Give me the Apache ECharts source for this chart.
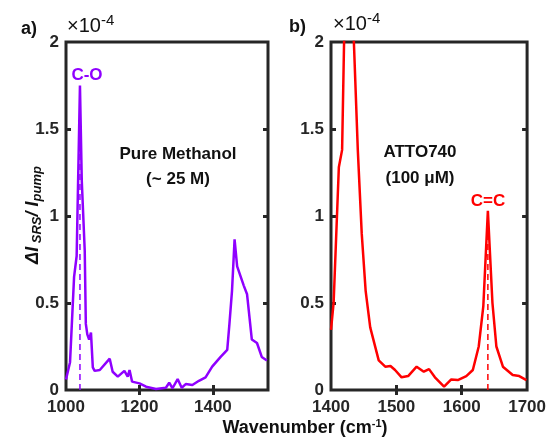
<!DOCTYPE html>
<html><head><meta charset="utf-8">
<script src="https://cdn.jsdelivr.net/npm/echarts@6/dist/echarts.min.js"></script>
<style>html,body{margin:0;padding:0;background:#fff}#c{width:549px;height:442px}</style>
</head><body><div id="c"></div>
<script>
// Data (values in units of 1e-4)
var methanolWavenumber = [1000,1011,1022,1029,1038,1043,1051,1054,1058,1063,1068,1073,1078,1092,1119,1127,1141,1159,1168,1173,1180,1200,1218,1245,1272,1281,1290,1304,1315,1326,1344,1362,1380,1398,1421,1439,1445,1452,1459,1466,1484,1493,1506,1520,1533,1547];
var methanolSignal = [0.06,0.16,0.65,0.77,1.75,1.2,0.8,0.38,0.32,0.29,0.33,0.13,0.11,0.115,0.18,0.105,0.077,0.11,0.077,0.115,0.048,0.038,0.019,0.006,0.013,0.042,0.01,0.063,0.013,0.034,0.029,0.053,0.073,0.134,0.19,0.23,0.38,0.57,0.866,0.71,0.60,0.55,0.29,0.27,0.19,0.17];
var attoWavenumber = [1400,1404,1412,1417,1420,1428,1435,1441,1447,1453,1460,1473,1483,1491,1498,1508,1518,1531,1542,1550,1559,1573,1584,1594,1607,1617,1626,1633,1640,1647,1653,1663,1678,1688,1699];
var attoSignal = [0.345,0.50,1.28,1.38,2.0,2.6,2.0,1.38,0.9,0.57,0.36,0.17,0.134,0.138,0.115,0.073,0.08,0.134,0.105,0.12,0.073,0.019,0.061,0.057,0.08,0.115,0.25,0.48,1.03,0.50,0.25,0.134,0.086,0.08,0.057];
var coMarker = [[1038,0],[1038,1.72]];
var ccMarker = [[1640,0],[1640,1.0]];
var yTicks = [0,0.5,1,1.5,2];
var leftXTicks = [1000,1200,1400];
var rightXTicks = [1400,1500,1600,1700];

function zip(a,b){return a.map(function(v,i){return [v,b[i]];});}
var purple = '#8F00FF', red = '#FF0000', frame = '#262626';
var FF = 'Liberation Sans, Arial';

function xAx(gi,min,max,ticks,top){
  return {type:'value', gridIndex:gi, min:min, max:max, position: top?'top':'bottom',
    axisLine:{show:false}, splitLine:{show:false},
    axisTick:{show:true, inside:true, length:5, lineStyle:{color:frame,width:3}, customValues: ticks.filter(function(t){return t>min && t<max;})},
    axisLabel:{show:!top, customValues:ticks, margin:9, formatter:function(v){return String(v);}, fontFamily:FF, fontWeight:'bold', fontSize:17, color:'#262626'}};
}
function yAx(gi,right){
  return {type:'value', gridIndex:gi, min:0, max:2, position: right?'right':'left',
    axisLine:{show:false}, splitLine:{show:false},
    axisTick:{show:true, inside:true, length:5, lineStyle:{color:frame,width:3}, customValues:[0.5,1,1.5]},
    axisLabel:{show:!right, customValues:yTicks, margin:7, formatter:function(v){return String(v);}, fontFamily:FF, fontWeight:'bold', fontSize:17, color:'#262626'}};
}
var expRich = {s:{fontSize:15, fontFamily:FF, fill:'#111', padding:[0,0,12,0]}};

var chart = echarts.init(document.getElementById('c'));
chart.setOption({
  animation:false,
  backgroundColor:'#fff',
  grid:[
    {left:66, top:42, width:202, height:348, show:true, borderColor:frame, borderWidth:3, backgroundColor:'transparent'},
    {left:331, top:42, width:197, height:348, show:true, borderColor:frame, borderWidth:3, backgroundColor:'transparent'}
  ],
  xAxis:[xAx(0,1000,1550,leftXTicks,false), xAx(0,1000,1550,leftXTicks,true), xAx(1,1400,1700,rightXTicks,false), xAx(1,1400,1700,rightXTicks,true)],
  yAxis:[yAx(0,false), yAx(0,true), yAx(1,false), yAx(1,true)],
  series:[
    {type:'line', xAxisIndex:0, yAxisIndex:0, data:zip(methanolWavenumber,methanolSignal), showSymbol:false, clip:true, lineStyle:{color:purple,width:2.5}, z:3},
    {type:'line', xAxisIndex:0, yAxisIndex:0, data:coMarker, showSymbol:false, lineStyle:{color:purple,width:1.5,type:[6,4]}, z:2},
    {type:'line', xAxisIndex:2, yAxisIndex:2, data:zip(attoWavenumber,attoSignal), showSymbol:false, clip:true, lineStyle:{color:red,width:2.5}, z:3},
    {type:'line', xAxisIndex:2, yAxisIndex:2, data:ccMarker, showSymbol:false, lineStyle:{color:red,width:1.5,type:[6,4]}, z:2}
  ],
  graphic:[
    {type:'text', left:21, top:20, style:{text:'a)', font:'bold 18px '+FF, fill:'#111'}},
    {type:'text', left:289, top:18, style:{text:'b)', font:'bold 18px '+FF, fill:'#111'}},
    {type:'text', x:67, y:40, style:{text:'×10{s|-4}', rich:expRich, font:'20px '+FF, fill:'#111', verticalAlign:'bottom'}},
    {type:'text', x:333, y:38, style:{text:'×10{s|-4}', rich:expRich, font:'20px '+FF, fill:'#111', verticalAlign:'bottom'}},
    {type:'text', x:87, y:75, style:{text:'C-O', font:'bold 17px '+FF, fill:purple, align:'center', verticalAlign:'middle'}},
    {type:'text', x:488, y:201, style:{text:'C=C', font:'bold 17px '+FF, fill:red, align:'center', verticalAlign:'middle'}},
    {type:'text', x:178, y:154, style:{text:'Pure Methanol', font:'bold 17px '+FF, fill:'#111', align:'center', verticalAlign:'middle'}},
    {type:'text', x:178, y:179, style:{text:'(~ 25 M)', font:'bold 17px '+FF, fill:'#111', align:'center', verticalAlign:'middle'}},
    {type:'text', x:420, y:152, style:{text:'ATTO740', font:'bold 17px '+FF, fill:'#111', align:'center', verticalAlign:'middle'}},
    {type:'text', x:420, y:178, style:{text:'(100 μM)', font:'bold 17px '+FF, fill:'#111', align:'center', verticalAlign:'middle'}},
    {type:'text', x:305, y:428, style:{text:'Wavenumber (cm{s|-1})', rich:{s:{fontSize:11, fontWeight:'bold', fontFamily:FF, fill:'#111', padding:[0,0,8,0]}}, font:'bold 18px '+FF, fill:'#111', align:'center', verticalAlign:'middle'}},
    {type:'text', x:33, y:215, rotation:Math.PI/2, style:{text:'ΔI{sub| SRS}/ I{sub|pump}', rich:{sub:{fontSize:13, fontStyle:'italic', fontWeight:'bold', fontFamily:FF, fill:'#111', padding:[8,0,0,0]}}, font:'italic bold 18px '+FF, fill:'#111', align:'center', verticalAlign:'middle'}}
  ]
});
</script></body></html>
